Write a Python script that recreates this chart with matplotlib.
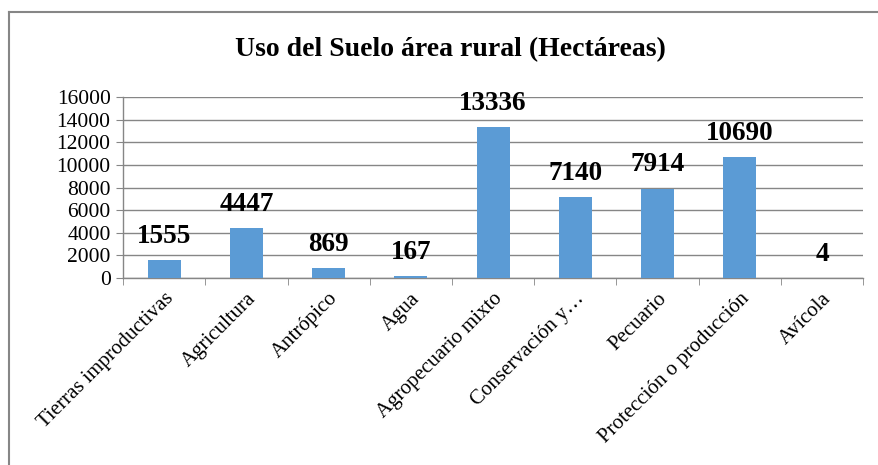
import matplotlib.pyplot as plt
from matplotlib.lines import Line2D

categorias = ['Tierras improductivas', 'Agricultura', 'Antrópico', 'Agua',
              'Agropecuario mixto', 'Conservación y…', 'Pecuario',
              'Protección o producción', 'Avícola']
hectareas = [1555, 4447, 869, 167, 13336, 7140, 7914, 10690, 4]
y_ticks = [0, 2000, 4000, 6000, 8000, 10000, 12000, 14000, 16000]

plt.rcParams['font.family'] = ['Liberation Serif', 'DejaVu Serif']

fig = plt.figure(figsize=(8.79, 4.65), dpi=100)
ax = fig.add_axes([0.140, 0.402, 0.842, 0.389])

x = list(range(len(categorias)))
ax.bar(x, hectareas, width=0.4, color='#5B9BD5', zorder=3)

for xi, v in zip(x, hectareas):
    ax.annotate(str(v), (xi, v), xytext=(0, 8), textcoords='offset points',
                ha='center', va='bottom', fontsize=19.5, fontweight='bold',
                annotation_clip=False, clip_on=False)

ax.set_xlim(-0.5, len(categorias) - 0.5)
ax.set_ylim(0, 16000)
ax.set_yticks(y_ticks)
ax.set_yticklabels([str(t) for t in y_ticks], fontsize=15.5)
ax.yaxis.grid(True, color='#868686', linewidth=1, zorder=0)

ax.set_xticks(x)
ax.set_xticklabels(categorias, rotation=45, ha='right', rotation_mode='anchor',
                   fontsize=15)
ax.set_xticks([i - 0.5 for i in range(len(categorias) + 1)], minor=True)
ax.tick_params(axis='x', which='major', length=0, pad=8)
ax.tick_params(axis='x', which='minor', length=5, color='#868686', direction='out')
ax.tick_params(axis='y', length=5, color='#868686', pad=4)

for s in ['top', 'right']:
    ax.spines[s].set_visible(False)
for s in ['left', 'bottom']:
    ax.spines[s].set_color('#868686')
    ax.spines[s].set_linewidth(1)

fig.text(0.512, 0.893, 'Uso del Suelo área rural (Hectáreas)', ha='center',
         va='center', fontsize=20, fontweight='bold')

# borde del gráfico (solo se ve arriba y a la izquierda)
fig.add_artist(Line2D([8.5 / 879, 8.5 / 879], [0, 1 - 12.5 / 465],
                      transform=fig.transFigure, color='#868686', linewidth=1.5))
fig.add_artist(Line2D([8.5 / 879, 1], [1 - 12.5 / 465, 1 - 12.5 / 465],
                      transform=fig.transFigure, color='#868686', linewidth=1.5))

fig.savefig('out.png', dpi=100)
